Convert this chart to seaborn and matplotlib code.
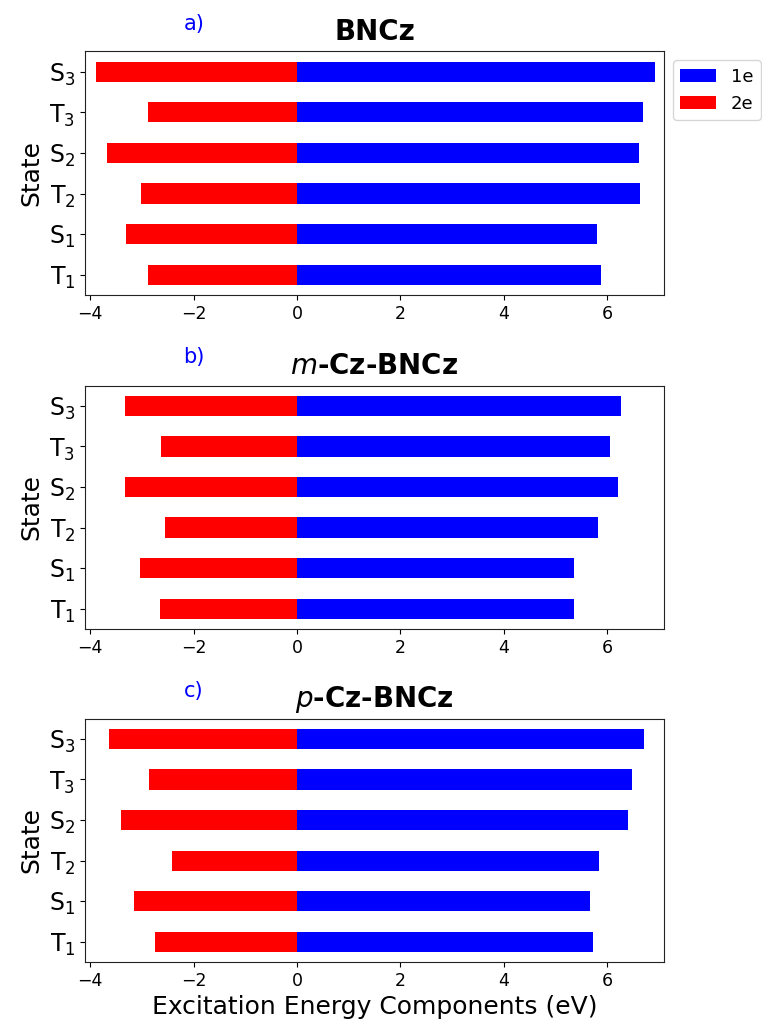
import matplotlib
matplotlib.use("Agg")
import matplotlib.pyplot as plt
import seaborn as sns
import pandas as pd

states = ["S$_3$", "T$_3$", "S$_2$", "T$_2$", "S$_1$", "T$_1$"]

bncz_1e = [6.92, 6.69, 6.61, 6.64, 5.81, 5.88]
bncz_2e = [-3.88, -2.88, -3.67, -3.01, -3.31, -2.89]

mcz_1e = [6.26, 6.05, 6.20, 5.82, 5.35, 5.35]
mcz_2e = [-3.32, -2.63, -3.32, -2.56, -3.04, -2.64]

pcz_1e = [6.71, 6.47, 6.40, 5.84, 5.66, 5.73]
pcz_2e = [-3.64, -2.86, -3.41, -2.42, -3.15, -2.74]

titles = ["BNCz", r"$m$-Cz-BNCz", r"$p$-Cz-BNCz"]
panel_tags = ["a)", "b)", "c)"]
series = [(bncz_1e, bncz_2e), (mcz_1e, mcz_2e), (pcz_1e, pcz_2e)]

plt.rcParams['font.family'] = ['DejaVu Sans']
plt.rcParams['text.color'] = 'black'
plt.rcParams['axes.labelcolor'] = 'black'
plt.rcParams['xtick.color'] = 'black'
plt.rcParams['ytick.color'] = 'black'

fig = plt.figure(figsize=(7.62, 10.28), dpi=100)
bottoms = [0.713, 0.388, 0.064]
tag_y = [1 - 24 / 1028, 1 - 357 / 1028, 1 - 691 / 1028]
palette = {"1e": "#0000ff", "2e": "#ff0000"}

for i, ((v1, v2), title, tag) in enumerate(zip(series, titles, panel_tags)):
    ax = fig.add_axes([0.1115, bottoms[i], 0.760, 0.237])
    df = pd.DataFrame({
        "State": states + states,
        "Energy": list(v1) + list(v2),
        "Component": ["1e"] * len(states) + ["2e"] * len(states),
    })
    sns.barplot(data=df, y="State", x="Energy", hue="Component", order=states,
                palette=palette, dodge=False, width=0.5, saturation=1,
                orient="h", ax=ax, linewidth=0)
    ax.set_xlim(-4.1, 7.1)
    ax.set_xticks([-4, -2, 0, 2, 4, 6])
    ax.tick_params(axis="x", labelsize=12.5)
    ax.tick_params(axis="y", labelsize=17)
    ax.set_ylabel("State", fontsize=18)
    ax.set_xlabel("Excitation Energy Components (eV)" if i == 2 else "", fontsize=18)
    ax.set_title(title, fontsize=20, fontweight="bold", pad=8)
    for s in ax.spines.values():
        s.set_visible(True)
        s.set_color("#222222")
    fig.text(194 / 762, tag_y[i], tag, color="blue", fontsize=15,
             ha="center", va="center")
    if i == 0:
        sns.move_legend(ax, "upper left", bbox_to_anchor=(1.0, 1.0),
                        title=None, fontsize=13, frameon=True)
    else:
        ax.get_legend().remove()

fig.savefig("out.png", dpi=100)
